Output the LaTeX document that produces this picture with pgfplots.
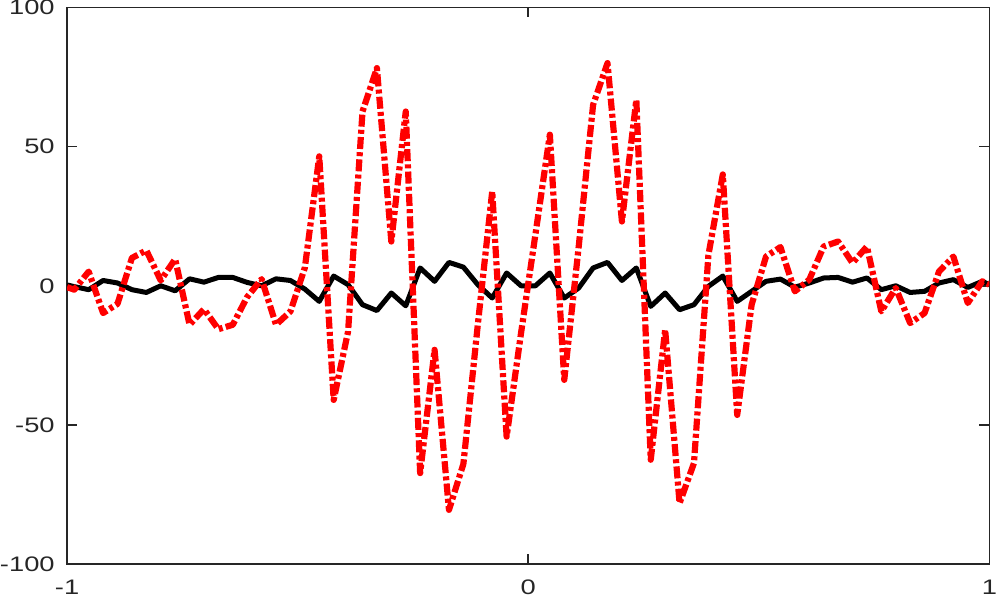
\documentclass[border=0pt]{standalone}
\usepackage{fontspec}
\setmainfont{Liberation Sans}[FakeStretch=1.3]
\usepackage{pgfplots}
\usepackage{pgfplotstable}
\pgfplotsset{compat=1.18}
\definecolor{axgray}{RGB}{38,38,38}

% columns: x, solid black series, dash-dot red series
\pgfplotstableread{
x        b     r
-1        0.3  -0.5
-0.984375 -0.3 -1.4
-0.953125 -1.4  5.1
-0.921875  1.9 -9.8
-0.890625  1.0 -6.5
-0.859375 -1.4 10.0
-0.828125 -2.4 12.7
-0.796875  0.0  1.9
-0.765625 -1.8  9.6
-0.734375  2.5 -14.0
-0.703125  1.3 -8.4
-0.671875  3.0 -15.6
-0.640625  3.0 -14.0
-0.609375  1.2 -4.0
-0.578125  0.0  2.4
-0.546875  2.5 -14.0
-0.515625  1.9 -9.2
-0.484375 -1.2  6.5
-0.453125 -5.6 46.5
-0.421875  3.5 -41.0
-0.390625  0.4 -16.4
-0.359375 -6.8 62.6
-0.328125 -8.9 78.2
-0.296875 -2.6 15.9
-0.265625 -7.2 62.6
-0.234375  6.4 -67.3
-0.203125  1.6 -23.0
-0.171875  8.4 -80.5
-0.140625  6.7 -64.0
-0.109375  0.4 -14.0
-0.078125 -4.4 33.9
-0.046875  4.6 -54.2
-0.015625  0.0 -17.0
0.015625   0.0 18.5
0.046875   4.6 54.3
0.078125  -4.4 -33.8
0.109375  -0.8 14.0
0.140625   6.4 65.0
0.171875   8.4 80.0
0.203125   1.9 23.1
0.234375   6.4 66.8
0.265625  -7.4 -62.5
0.296875  -2.6 -15.8
0.328125  -8.6 -78.1
0.359375  -6.8 -63.7
0.390625  -0.2 11.0
0.421875   3.5 40.0
0.453125  -5.6 -46.4
0.484375  -2.0 -6.8
0.515625   1.6 10.5
0.546875   2.4 13.9
0.578125  -0.5 -2.0
0.609375   1.0  2.2
0.640625   2.8 14.1
0.671875   3.0 15.9
0.703125   1.3  8.2
0.734375   2.8 14.1
0.765625  -1.4 -9.2
0.796875   0.0 -0.8
0.828125  -2.4 -13.4
0.859375  -2.0 -9.8
0.890625   1.0  5.1
0.921875   2.2 10.5
0.953125  -0.6 -6.2
0.984375   1.6  1.6
1          0.4  0.4
}\sig

\begin{document}
\begin{tikzpicture}
\begin{axis}[
   width=461pt, height=278.25pt, scale only axis,
   xmin=-1, xmax=1, ymin=-100, ymax=100,
   xtick={-1,0,1}, xticklabels={-1,0,1},
   ytick={-100,-50,0,50,100}, yticklabels={-100,-50,0,50,100},
   tick align=inside, major tick length=5pt,
   axis line style={axgray,line width=0.75pt},
   tick style={axgray,line width=0.75pt},
   ticklabel style={font=\fontsize{10.5}{12}\selectfont,text=axgray,inner sep=0pt},
   yticklabel style={xshift=-6pt},
   xticklabel style={yshift=-6.5pt,inner ysep=1.2pt},
   ]
\addplot[black,line width=2.5pt,line join=round,no marks] table[x=x,y=b] {\sig};
\addplot[red,line width=3.1pt,line join=round,no marks,dash pattern=on 6pt off 1.6pt on 2pt off 1.6pt] table[x=x,y=r] {\sig};
\end{axis}
\end{tikzpicture}
\end{document}
